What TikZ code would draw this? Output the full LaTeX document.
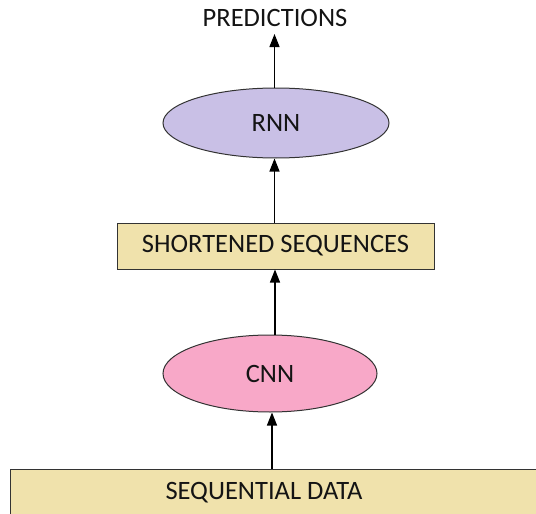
\documentclass[tikz,border=0pt]{standalone}
\usepackage{fontspec}
\setmainfont{Carlito}
\usetikzlibrary{shapes.geometric,arrows.meta}
\definecolor{rnnfill}{RGB}{201,192,230}
\definecolor{cnnfill}{RGB}{248,168,200}
\definecolor{boxfill}{RGB}{240,226,172}
\definecolor{txt}{RGB}{20,20,20}
\tikzset{
  lbl/.style={font=\fontsize{26.5}{30}\selectfont, text=txt},
  ell/.style={ellipse, draw=black!80, line width=1pt, inner sep=0pt, lbl},
  boxnode/.style={rectangle, draw=black!80, line width=1pt, fill=boxfill, inner sep=0pt, lbl},
  conn/.style={-{Triangle[length=13pt,width=10pt]}, line width=1.2pt, black}
}
\begin{document}
\begin{tikzpicture}[x=1pt,y=-1pt]
\useasboundingbox (0,0) rectangle (536,514);
\begin{scope}
\clip (0,0) rectangle (536,514);
\node[boxnode, minimum width=540pt, minimum height=56pt, anchor=north west] (seq) at (10,469) {};
\node[lbl] (seqtxt) at (264,493) {SEQUENTIAL DATA};
\end{scope}
\node[ell, fill=cnnfill, minimum width=214pt, minimum height=77pt] (cnn) at (270,373.5) {CNN};
\node[boxnode, minimum width=317pt, minimum height=46pt] (short) at (275.5,246) {SHORTENED SEQUENCES};
\node[ell, fill=rnnfill, minimum width=226pt, minimum height=70pt] (rnn) at (276,123) {RNN};
\node[lbl] (pred) at (275,18) {PREDICTIONS};
\coordinate (seqtop) at (272,469);
\coordinate (predbot) at (274.5,34);
\draw[conn] (seqtop) -- (cnn.south -| seqtop);
\draw[conn] (cnn.north -| 275,0) -- (short.south -| 275,0);
\draw[conn] (short.north -| predbot) -- (rnn.south -| predbot);
\draw[conn] (rnn.north -| predbot) -- (predbot);
\end{tikzpicture}
\end{document}
